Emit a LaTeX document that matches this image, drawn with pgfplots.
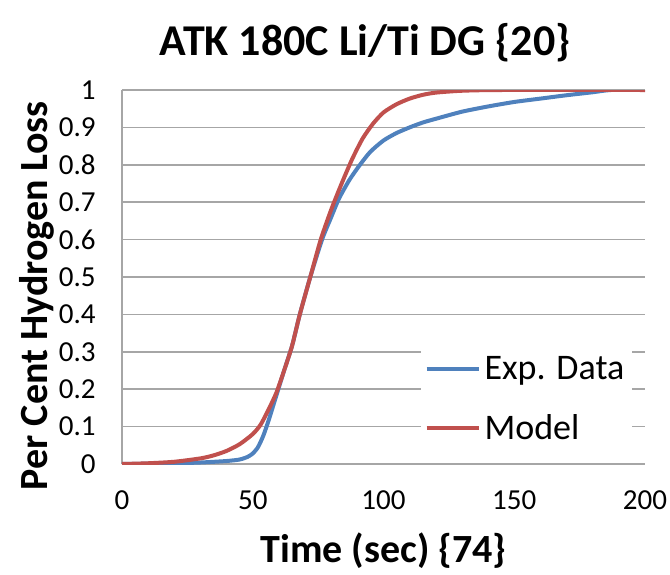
\documentclass[border=0pt]{standalone}
\usepackage{fontspec}
\setmainfont{Carlito}
\usepackage{pgfplots}
\pgfplotsset{compat=1.18}
\definecolor{expblue}{HTML}{4F81BD}
\definecolor{modelred}{HTML}{C0504D}
\definecolor{gridgray}{HTML}{A6A6A6}

\begin{document}
\begin{tikzpicture}
\begin{axis}[
    at={(0,0)}, anchor=south west,
    scale only axis,
    width=261.5pt, height=187pt,
    xmin=0, xmax=200, ymin=0, ymax=1,
    xtick={0,50,100,150,200},
    ytick={0,0.1,0.2,0.3,0.4,0.5,0.6,0.7,0.8,0.9,1},
    axis lines=left,
    axis line style={gridgray, line width=0.75pt, -},
    ymajorgrids,
    grid style={gridgray, line width=0.75pt},
    major tick length=0pt,
    /pgf/number format/assume math mode=true,
    tick label style={font=\fontsize{14.5}{16}\selectfont, inner sep=0pt},
    yticklabel style={anchor=east, xshift=-13pt},
    xticklabel style={anchor=north, yshift=-13pt},
    legend style={at={(axis cs:114,0.311)}, anchor=north west,
        fill=white, draw=none, inner sep=2pt,
        font=\fontsize{18}{20}\selectfont,
        row sep=12pt},
    legend cell align=left,
    legend image code/.code={\draw[#1, line width=2pt] (0pt,0pt) -- (26pt,0pt);},
]
% Exp. Data
\addplot[expblue, line width=2pt, smooth, tension=0.4] coordinates {
    (0,0) (20,0.002) (30,0.004) (40,0.008) (45,0.012) (48,0.019) (50,0.028)
    (52,0.045) (54,0.075) (56,0.115) (58,0.16) (60,0.205) (62,0.25)
    (65,0.315) (68,0.4) (72,0.5) (76.5,0.6) (80,0.66) (83,0.71) (87,0.76)
    (91,0.8) (95,0.835) (100,0.865) (105,0.885) (110,0.9) (115,0.913)
    (120,0.923) (130,0.942) (140,0.956) (150,0.968) (160,0.977)
    (170,0.986) (180,0.994) (187,1.0) (200,1.0)
};
\addlegendentry{Exp. Data}
% Model
\addplot[modelred, line width=2pt, smooth, tension=0.4] coordinates {
    (0,0) (10,0.002) (20,0.006) (30,0.015) (35,0.023) (40,0.035) (45,0.053)
    (50,0.08) (53,0.105) (56,0.145) (59,0.19) (62,0.25) (65,0.315)
    (68,0.4) (72,0.5) (76,0.6) (80,0.68) (84,0.75) (88,0.815) (92,0.87)
    (96,0.91) (100,0.94) (105,0.962) (110,0.977) (115,0.987) (120,0.993)
    (130,0.998) (145,1.0) (200,1.0)
};
\addlegendentry{Model}
\coordinate (ttl) at (rel axis cs:0.465,1);
\coordinate (xlab) at (rel axis cs:0.5,0);
\coordinate (ylab) at (rel axis cs:0,0.45);
\end{axis}
\node[anchor=base, font=\bfseries\fontsize{22}{24}\selectfont] at ([yshift=17.5pt]ttl) {ATK 180C Li/Ti DG \{20\}};
\node[anchor=base, font=\bfseries\fontsize{20}{22}\selectfont] at ([yshift=-49pt]xlab) {Time (sec) \{74\}};
\node[anchor=base, rotate=90, font=\bfseries\fontsize{20}{22}\selectfont] at ([xshift=-37pt]ylab) {Per Cent Hydrogen Loss};
\path[use as bounding box] (-61pt,-53.5pt) rectangle (274pt,232pt);
\end{tikzpicture}
\end{document}
